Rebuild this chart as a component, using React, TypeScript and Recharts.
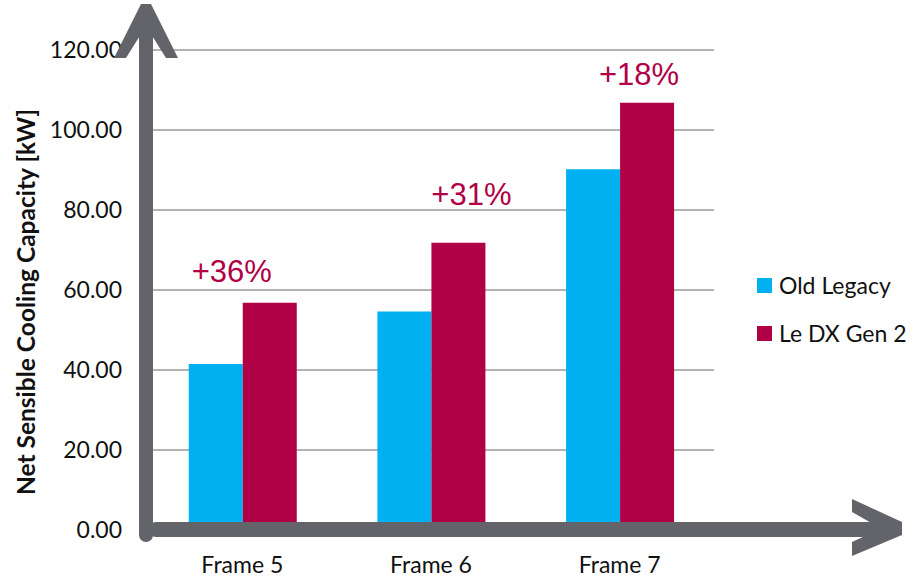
import { BarChart, Bar, XAxis, YAxis, CartesianGrid, LabelList } from 'recharts';

const frames = ['Frame 5', 'Frame 6', 'Frame 7'];
const oldLegacy = [41.5, 54.6, 90.2];
const leDxGen2 = [56.8, 71.8, 106.8];
const gains = ['+36%', '+31%', '+18%'];
const yTicks = [0, 20, 40, 60, 80, 100, 120];

const BLUE = '#00B0F0';
const RED = '#B00046';
const ARROW = '#636469';
const W = 923;
const H = 577;

// where each gain label sits relative to the top-centre of its red bar
const gainNudge = [
  { dx: -38, dy: -21 },
  { dx: 13, dy: -38 },
  { dx: -8, dy: -18 },
];

const data = frames.map((frame, i) => ({
  frame,
  oldLegacy: oldLegacy[i],
  leDxGen2: leDxGen2[i],
  gain: gains[i],
}));

function GainLabel(props: any) {
  const { x, y, width, index, value } = props;
  const n = gainNudge[index] || { dx: 0, dy: -10 };
  return (
    <text
      x={x + width / 2 + n.dx}
      y={y + n.dy}
      textAnchor="middle"
      fill={RED}
      fontFamily="'Liberation Sans', Arial, sans-serif"
      fontSize={31}
    >
      {value}
    </text>
  );
}

export default function App() {
  const font = 'Lato, sans-serif';
  return (
    <div style={{ position: 'absolute', left: 0, top: 0, width: W, height: H, background: '#fff' }}>
      <BarChart
        width={W}
        height={H}
        data={data}
        margin={{ top: 50, right: 209, bottom: 7, left: 0 }}
        barCategoryGap="21.6%"
        barGap={0}
      >
        <CartesianGrid horizontal vertical={false} stroke="#9a9a9a" strokeWidth={1.5} />
        <XAxis
          dataKey="frame"
          axisLine={false}
          tickLine={false}
          tickSize={0}
          tickMargin={27}
          height={40}
          tick={{ fill: '#111', fontSize: 23, fontFamily: font }}
        />
        <YAxis
          domain={[0, 120]}
          ticks={yTicks}
          width={148}
          axisLine={false}
          tickLine={false}
          tickSize={0}
          tickMargin={26}
          tickFormatter={(v: number) => v.toFixed(2)}
          tick={{ fill: '#111', fontSize: 23, fontFamily: font }}
        />
        <Bar dataKey="oldLegacy" fill={BLUE} isAnimationActive={false} />
        <Bar dataKey="leDxGen2" fill={RED} isAnimationActive={false}>
          <LabelList dataKey="gain" content={GainLabel} />
        </Bar>
      </BarChart>

      <svg width={W} height={H} style={{ position: 'absolute', left: 0, top: 0, pointerEvents: 'none' }}>
        {/* axis title */}
        <text
          transform="translate(35 302) rotate(-90)"
          textAnchor="middle"
          fontFamily={font}
          fontWeight={700}
          fontSize={24.5}
          fill="#111"
        >
          Net Sensible Cooling Capacity [kW]
        </text>

        {/* vertical arrow */}
        <line x1={146} y1={535} x2={146} y2={22} stroke={ARROW} strokeWidth={14} strokeLinecap="round" />
        <polygon points="141,4 151,4 178,58 166,58 146,26 126,58 114,58" fill={ARROW} />

        {/* horizontal arrow */}
        <line x1={156} y1={529.5} x2={888} y2={529.5} stroke={ARROW} strokeWidth={15} strokeLinecap="round" />
        <polygon points="852,499 902,522 902,535 852,556 852,542 881,528.5 852,512" fill={ARROW} />

        {/* legend */}
        <rect x={757} y={278} width={15} height={15} fill={BLUE} />
        <text x={779} y={294} fontFamily={font} fontSize={23} fill="#111">Old Legacy</text>
        <rect x={757} y={326} width={15} height={15} fill={RED} />
        <text x={779} y={342} fontFamily={font} fontSize={23} fill="#111">Le DX Gen 2</text>
      </svg>
    </div>
  );
}
